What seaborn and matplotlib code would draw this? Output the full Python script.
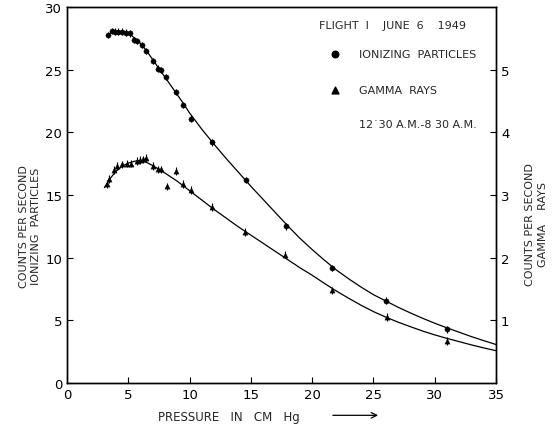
import numpy as np
import pandas as pd
import matplotlib
import matplotlib.pyplot as plt
import seaborn as sns

matplotlib.use('Agg')

# ionizing particles (left axis, counts/s) - measured points
ion_p = [3.37, 3.64, 3.9, 4.2, 4.46, 4.8, 5.1, 5.47, 5.74, 6.1, 6.44, 7.04, 7.45,
         7.64, 8.07, 8.86, 9.44, 10.09, 11.8, 14.6, 17.86, 21.6, 26.0, 30.97]
ion_c = [27.8, 28.1, 28.05, 28.05, 28.05, 27.97, 27.9, 27.4, 27.3, 27.0, 26.5, 25.7, 25.1,
         24.96, 24.4, 23.25, 22.2, 21.1, 19.2, 16.2, 12.5, 9.2, 6.58, 4.27]

# fitted curve
ion_fit_p = [3.3, 3.6, 4, 4.5, 5, 5.5, 6, 6.5, 7, 7.5, 8, 8.5, 9, 9.5, 10, 11, 12, 13, 14,
             15, 16, 17, 18, 19, 20, 21, 22, 23, 24, 25, 26, 27, 28, 29, 30, 31, 32, 33,
             34, 35]
ion_fit_c = [27.7, 28.0, 28.05, 28.05, 27.9, 27.55, 27.1, 26.5, 25.8, 25.1, 24.4, 23.7,
             23.0, 22.3, 21.55, 20.25, 19.05, 17.9, 16.8, 15.7, 14.65, 13.6, 12.55, 11.55,
             10.65, 9.8, 9.0, 8.3, 7.65, 7.05, 6.55, 6.05, 5.6, 5.17, 4.77, 4.4, 4.05, 3.7,
             3.38, 3.07]

# gamma rays (right axis, counts/s) - measured points
gam_p = [3.24, 3.45, 3.83, 4.1, 4.46, 4.87, 5.2, 5.68, 5.95, 6.22, 6.44, 7.04, 7.4,
         7.67, 8.18, 8.86, 9.44, 10.09, 11.8, 14.5, 17.8, 21.64, 26.07, 30.97]
gam_c = [3.18, 3.26, 3.4, 3.46, 3.49, 3.5, 3.5, 3.54, 3.56, 3.57, 3.59, 3.46, 3.41,
         3.41, 3.14, 3.38, 3.18, 3.08, 2.81, 2.41, 2.05, 1.48, 1.05, 0.67]

gam_fit_p = [3.05, 3.5, 4, 4.5, 5, 5.5, 6, 6.5, 7, 7.5, 8, 9, 10, 11, 12, 13, 14, 15,
             16, 17, 18, 19, 20, 21, 22, 23, 24, 25, 26, 27, 28, 29, 30, 31, 32, 33, 34, 35]
gam_fit_c = [3.12, 3.26, 3.38, 3.46, 3.51, 3.54, 3.55, 3.52, 3.47, 3.41, 3.35, 3.22, 3.07,
             2.92, 2.77, 2.63, 2.49, 2.36, 2.23, 2.10, 1.97, 1.84, 1.72, 1.59, 1.465, 1.35,
             1.24, 1.14, 1.052, 0.972, 0.90, 0.83, 0.768, 0.712, 0.66, 0.608, 0.56, 0.516]

x_ticks = [0, 5, 10, 15, 20, 25, 30, 35]
left_ticks = [0, 5, 10, 15, 20, 25, 30]
right_ticks = [1, 2, 3, 4, 5]

sns.set_style("ticks")
plt.rcParams['font.family'] = ['DejaVu Sans']

fig = plt.figure(figsize=(5.52, 4.27), dpi=100)
ax = fig.add_axes([0.1214, 0.1007, 0.7772, 0.8803])
ax2 = ax.twinx()

ion_df = pd.DataFrame({'p': ion_p, 'c': ion_c})
gam_df = pd.DataFrame({'p': gam_p, 'c': gam_c})

sns.lineplot(x=ion_fit_p, y=ion_fit_c, ax=ax, color='black', lw=0.9)
ax.errorbar(ion_df['p'], ion_df['c'], yerr=0.25, fmt='none', ecolor='black', elinewidth=0.8)
sns.scatterplot(data=ion_df, x='p', y='c', ax=ax, marker='o', s=14, color='black', edgecolor='black')

sns.lineplot(x=gam_fit_p, y=gam_fit_c, ax=ax2, color='black', lw=0.9)
ax2.errorbar(gam_df['p'], gam_df['c'], yerr=0.06, fmt='none', ecolor='black', elinewidth=0.8)
sns.scatterplot(data=gam_df, x='p', y='c', ax=ax2, marker='^', s=14, color='black', edgecolor='black')

ax.set_xlim(0, 35)
ax.set_ylim(0, 30)
ax2.set_ylim(0, 6)
ax.set_xticks(x_ticks)
ax.set_yticks(left_ticks)
ax2.set_yticks(right_ticks)
ax.set_xlabel('')
ax.set_ylabel('')
ax2.set_ylabel('')

for a in (ax, ax2):
    a.tick_params(direction='in', length=4, width=0.8, labelsize=9.5, colors='black')
    for s in a.spines.values():
        s.set_visible(True)
        s.set_color('black')
        s.set_linewidth(1.0)

# labels
fig.text(0.054, 0.47, 'COUNTS PER SECOND\nIONIZING  PARTICLES', rotation=90,
         ha='center', va='center', fontsize=8, linespacing=1.3)
fig.text(0.972, 0.475, 'COUNTS PER SECOND\nGAMMA    RAYS', rotation=90,
         ha='center', va='center', fontsize=8, linespacing=1.3)
fig.text(0.286, 0.023, 'PRESSURE   IN   CM   Hg', ha='left', va='center', fontsize=8.5)
fig.patches.append(matplotlib.patches.FancyArrowPatch(
    (0.598, 0.025), (0.69, 0.025), transform=fig.transFigure,
    arrowstyle='->', mutation_scale=10, lw=0.9, color='black'))

# legend block
ax.text(0.93, 0.965, 'FLIGHT  I    JUNE  6    1949', transform=ax.transAxes,
        ha='right', va='top', fontsize=8)
ax.scatter([0.625], [0.875], transform=ax.transAxes, marker='o', s=22, color='black')
ax.text(0.68, 0.875, 'IONIZING  PARTICLES', transform=ax.transAxes,
        ha='left', va='center', fontsize=8)
ax.scatter([0.625], [0.78], transform=ax.transAxes, marker='^', s=24, color='black')
ax.text(0.68, 0.78, 'GAMMA  RAYS', transform=ax.transAxes,
        ha='left', va='center', fontsize=8)
ax.text(0.68, 0.69, '12\u02d930 A.M.-8 30 A.M.', transform=ax.transAxes,
        ha='left', va='center', fontsize=8)

fig.savefig('out.png', dpi=100)
